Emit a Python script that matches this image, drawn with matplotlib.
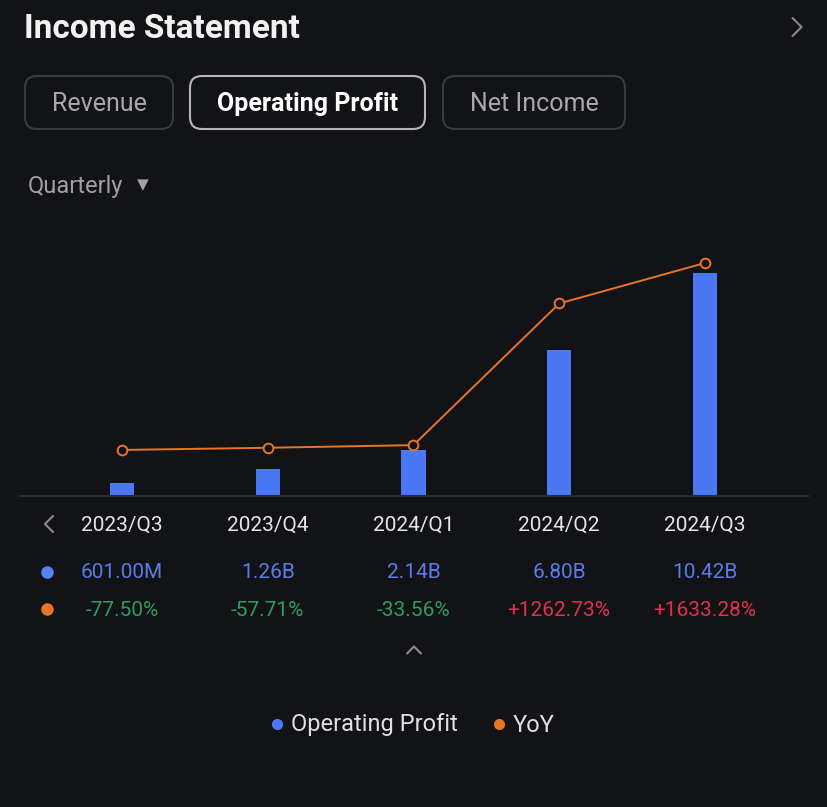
import matplotlib.pyplot as plt
import matplotlib.transforms as mtransforms
from matplotlib.patches import FancyBboxPatch
import numpy as np

# data
quarters = ["2023/Q3", "2023/Q4", "2024/Q1", "2024/Q2", "2024/Q3"]
op_profit = [0.601, 1.26, 2.14, 6.80, 10.42]          # billions
op_labels = ["601.00M", "1.26B", "2.14B", "6.80B", "10.42B"]
yoy = [-77.50, -57.71, -33.56, 1262.73, 1633.28]       # percent
tabs = ["Revenue", "Operating Profit", "Net Income"]

BG = "#121316"
BLUE = "#4a78f5"
ORANGE = "#e8742a"
W, H = 828, 807

plt.rcParams['font.family'] = ['Roboto', 'DejaVu Sans']

fig = plt.figure(figsize=(W / 100, H / 100), dpi=100, facecolor=BG)

# canvas in pixel coords for the app chrome
cv = fig.add_axes([0, 0, 1, 1])
cv.set_xlim(0, W)
cv.set_ylim(H, 0)
cv.axis("off")
cv.set_facecolor(BG)

def chevron(xc, yc, kind, size=7, color="#8a8a8a"):
    if kind == ">":
        xs, ys = [xc - size / 2, xc + size / 2, xc - size / 2], [yc - size, yc, yc + size]
    elif kind == "<":
        xs, ys = [xc + size / 2, xc - size / 2, xc + size / 2], [yc - size, yc, yc + size]
    else:  # "^"
        xs, ys = [xc - size, xc, xc + size], [yc + size / 2, yc - size / 2, yc + size / 2]
    cv.plot(xs, ys, color=color, lw=1.5, solid_capstyle="round")

cv.text(24, 29, "Income Statement", color="#f2f2f2", fontsize=24,
        fontweight="bold", va="center", ha="left")
chevron(797, 27, ">", size=9)

# tab buttons
tab_boxes = [(25, 173), (190, 425), (443, 625)]
for i, (name, (x0, x1)) in enumerate(zip(tabs, tab_boxes)):
    sel = i == 1
    box = FancyBboxPatch((x0, 76), x1 - x0, 53,
                         boxstyle="round,pad=0,rounding_size=12",
                         fc=BG, ec="#b5b5b5" if sel else "#3a3b3f", lw=1.5)
    cv.add_patch(box)
    cv.text((x0 + x1) / 2, 104, name, ha="center", va="center", fontsize=18,
            color="#ffffff" if sel else "#a8a8a8",
            fontweight="bold" if sel else "normal")

cv.text(28, 186, "Quarterly", color="#a0a0a0", fontsize=17, va="center")
cv.text(143, 185, "\u25BC", color="#a0a0a0", fontsize=11, va="center", ha="center")

# chart
ax = fig.add_axes([20 / W, (H - 496) / H, 788 / W, 266 / H])
ax.set_facecolor("none")
x = np.arange(len(quarters))
bars = ax.bar(x, op_profit, width=0.165, color=BLUE, zorder=2)
ax.set_xlim(-0.70, 4.707)
ax.set_ylim(0, 12.43)
for s in ["top", "left", "right"]:
    ax.spines[s].set_visible(False)
ax.spines["bottom"].set_color("#2a2b2f")
ax.spines["bottom"].set_linewidth(1.5)
ax.set_xticks([])
ax.set_yticks([])

ax2 = ax.twinx()
ax2.plot(x, yoy, color=ORANGE, lw=1.4, marker="o", ms=7, mfc=BG,
         mec=ORANGE, mew=1.4, zorder=3)
ax2.set_ylim(-499, 1935)
ax2.axis("off")

# table under the chart, columns aligned to bar positions
tr = mtransforms.blended_transform_factory(ax.transData, cv.transData)
chevron(49, 524, "<", size=8)
cv.plot([47], [572], "o", color="#5b7ff5", ms=8)
cv.plot([47], [609], "o", color=ORANGE, ms=8)
for i in range(len(quarters)):
    ax.text(i, 525, quarters[i], transform=tr, ha="center", va="center",
            color="#e6e6e6", fontsize=15, clip_on=False)
    ax.text(i, 573, op_labels[i], transform=tr, ha="center", va="center",
            color="#5b7be6", fontsize=15, clip_on=False)
    s = "%+.2f%%" % yoy[i]
    ax.text(i, 610, s, transform=tr, ha="center", va="center",
            color="#2e9e5e" if yoy[i] < 0 else "#e0324a", fontsize=15,
            clip_on=False)
chevron(414, 650, "^", size=7)

# legend
cv.plot([277], [724], "o", color=BLUE, ms=7)
cv.text(291, 725, "Operating Profit", color="#e0e0e0", fontsize=17, va="center")
cv.plot([499], [724], "o", color=ORANGE, ms=7)
cv.text(513, 725, "YoY", color="#e0e0e0", fontsize=17, va="center")

fig.savefig("out.png", dpi=100, facecolor=BG)
